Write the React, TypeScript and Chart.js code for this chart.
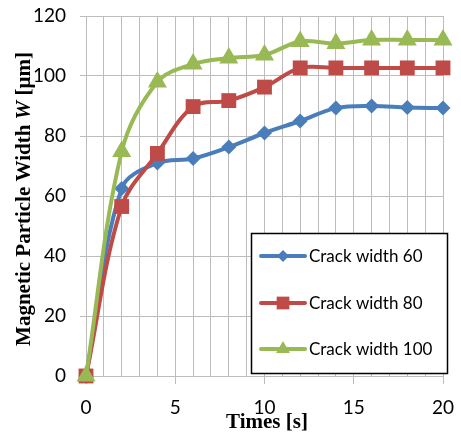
import React, { useEffect, useRef } from 'react';
import { Chart, registerables } from 'chart.js';
Chart.register(...registerables);

const times = [0, 2, 4, 6, 8, 10, 12, 14, 16, 18, 20];
const crack60 = [0, 62.5, 71, 72.5, 76.3, 81, 85, 89.3, 90, 89.5, 89.3];
const crack80 = [0, 56.5, 74.2, 89.8, 91.8, 96.3, 102.7, 102.7, 102.7, 102.7, 102.7];
const crack100 = [0, 74.8, 98, 104, 106, 107, 111.5, 110.8, 112, 112, 112];
const seriesNames = ['Crack width 60', 'Crack width 80', 'Crack width 100'];
const seriesColors = ['#4A7EBB', '#BE4B48', '#98B954'];
const seriesMarkers = ['rectRot', 'rect', 'triangle'];
const seriesRadii = [7.5, 10.5, 11];
const xTitle = 'Times [s]';
const yTitleParts = [
  { text: 'Magnetic Particle Width ', italic: false },
  { text: 'W', italic: true },
  { text: ' [μm]', italic: false },
];

const TICK_FONT = 'Lato';
const GRID = '#BDBDBD';

function markerPath(ctx: CanvasRenderingContext2D, style: string, x: number, y: number, r: number) {
  ctx.beginPath();
  if (style === 'rectRot') {
    ctx.moveTo(x - r, y);
    ctx.lineTo(x, y - r);
    ctx.lineTo(x + r, y);
    ctx.lineTo(x, y + r);
  } else if (style === 'rect') {
    const s = Math.SQRT1_2 * r;
    ctx.rect(x - s, y - s, 2 * s, 2 * s);
  } else {
    ctx.moveTo(x, y - r);
    ctx.lineTo(x + 0.866 * r, y + r / 2);
    ctx.lineTo(x - 0.866 * r, y + r / 2);
  }
  ctx.closePath();
}

const overlayPlugin = {
  id: 'overlay',
  afterDraw(chart: any) {
    const ctx: CanvasRenderingContext2D = chart.ctx;
    const ca = chart.chartArea;
    ctx.save();
    // Legend box
    const bx = ca.right - 192;
    const by = ca.top + 217;
    const bw = 196;
    const bh = 140;
    ctx.fillStyle = '#ffffff';
    ctx.fillRect(bx, by, bw, bh);
    ctx.strokeStyle = '#000000';
    ctx.lineWidth = 1.5;
    ctx.strokeRect(bx + 0.5, by + 0.5, bw, bh);
    const rowYs = [by + 23, by + 70, by + 116];
    seriesNames.forEach((name, i) => {
      const y = rowYs[i];
      ctx.strokeStyle = seriesColors[i];
      ctx.lineWidth = 4;
      ctx.lineCap = 'round';
      ctx.beginPath();
      ctx.moveTo(bx + 10, y);
      ctx.lineTo(bx + 54, y);
      ctx.stroke();
      ctx.fillStyle = seriesColors[i];
      markerPath(ctx, seriesMarkers[i], bx + 32, y, i === 0 ? 6 : i === 1 ? 9 : 8);
      ctx.fill();
      ctx.fillStyle = '#000000';
      ctx.font = `17px ${TICK_FONT}`;
      ctx.textAlign = 'left';
      ctx.textBaseline = 'middle';
      ctx.fillText(name, bx + 58, y + 1);
    });

    // X title
    ctx.fillStyle = '#000000';
    ctx.font = 'bold 21px "Liberation Serif"';
    ctx.textAlign = 'center';
    ctx.textBaseline = 'middle';
    ctx.fillText(xTitle, 267, 423);

    // Y title (rotated, with italic W)
    ctx.translate(25, 199);
    ctx.rotate(-Math.PI / 2);
    const fonts = yTitleParts.map(p => (p.italic ? 'italic bold 21px "Liberation Serif"' : 'bold 21px "Liberation Serif"'));
    let total = 0;
    const widths = yTitleParts.map((p, i) => {
      ctx.font = fonts[i];
      const w = ctx.measureText(p.text).width;
      total += w;
      return w;
    });
    let cx = -total / 2;
    ctx.textAlign = 'left';
    yTitleParts.forEach((p, i) => {
      ctx.font = fonts[i];
      ctx.fillText(p.text, cx, 0);
      cx += widths[i];
    });
    ctx.restore();
  },
};

export default function App() {
  const ref = useRef<HTMLCanvasElement>(null);
  useEffect(() => {
    if (!ref.current) return;
    const data = [crack60, crack80, crack100];
    const chart = new Chart(ref.current, {
      type: 'line',
      data: {
        datasets: data.map((vals, i) => ({
          label: seriesNames[i],
          data: vals.map((v, j) => ({ x: times[j], y: v })),
          borderColor: seriesColors[i],
          backgroundColor: seriesColors[i],
          borderWidth: 4,
          pointStyle: seriesMarkers[i] as any,
          pointRadius: seriesRadii[i],
          pointBorderWidth: 0,
          pointBackgroundColor: seriesColors[i],
          tension: 0.35,
          clip: false as any,
          order: 3 - i,
        })),
      },
      options: {
        animation: false,
        responsive: false,
        devicePixelRatio: 1,
        layout: { padding: { left: 0, right: 18, top: 16, bottom: 0 } },
        plugins: {
          legend: { display: false },
          tooltip: { enabled: false },
        },
        scales: {
          x: {
            type: 'linear',
            min: 0,
            max: 20,
            afterFit: (s: any) => { s.height = 58; s.paddingLeft = 0; s.paddingRight = 0; },
            ticks: {
              stepSize: 1,
              autoSkip: false,
              maxRotation: 0,
              padding: 12,
              color: '#000',
              font: { family: TICK_FONT, size: 19 },
              callback: (v: any) => (Number(v) % 5 === 0 ? String(v) : ''),
            },
            grid: {
              color: GRID,
              lineWidth: 1,
              tickLength: 8,
              tickColor: (c: any) => (c.tick && c.tick.value % 5 === 0 ? GRID : 'rgba(0,0,0,0)'),
            },
            border: { color: GRID, width: 1 },
          },
          y: {
            type: 'linear',
            min: 0,
            max: 120,
            afterFit: (s: any) => { s.width = 86; s.paddingTop = 0; s.paddingBottom = 0; },
            ticks: {
              stepSize: 20,
              padding: 14,
              color: '#000',
              font: { family: TICK_FONT, size: 19 },
            },
            grid: { color: GRID, lineWidth: 1, tickLength: 6 },
            border: { color: GRID, width: 1 },
          },
        },
      },
      plugins: [overlayPlugin],
    });
    return () => chart.destroy();
  }, []);
  return (
    <div style={{ position: 'fixed', left: 0, top: 0, width: 461, height: 434, background: '#fff' }}>
      <canvas ref={ref} width={461} height={434} />
    </div>
  );
}
